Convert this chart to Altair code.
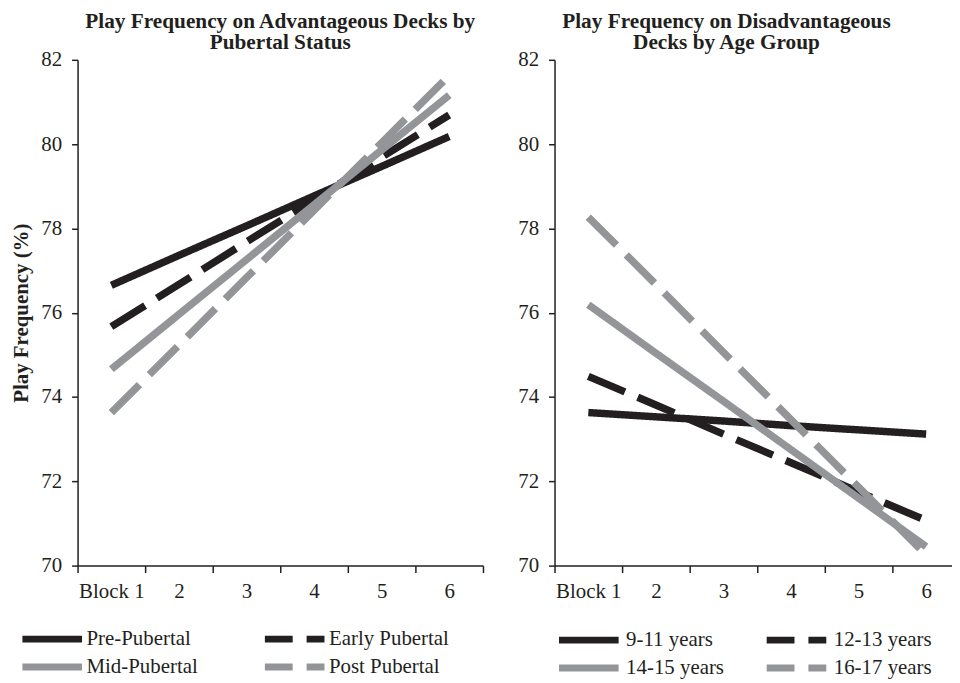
import altair as alt
import pandas as pd

# ---------------- data ----------------
blocks = [1, 2, 3, 4, 5, 6]
block_labels = ["Block 1", "2", "3", "4", "5", "6"]

pub_groups = ["Pre-Pubertal", "Early Pubertal", "Mid-Pubertal", "Post Pubertal"]
pre_pubertal = [76.65, 77.36, 78.06, 78.77, 79.47, 80.18]
early_pubertal = [75.67, 76.67, 77.68, 78.68, 79.69, 80.69]
mid_pubertal = [74.66, 75.96, 77.26, 78.56, 79.86, 81.16]
post_pubertal = [73.63, 75.23, 76.83, 78.43, 80.03, 81.63]

age_groups = ["9-11 years", "12-13 years", "14-15 years", "16-17 years"]
age_9_11 = [73.63, 73.53, 73.43, 73.32, 73.22, 73.12]
age_12_13 = [74.49, 73.81, 73.12, 72.44, 71.75, 71.07]
age_14_15 = [76.19, 75.04, 73.90, 72.75, 71.60, 70.45]
age_16_17 = [78.27, 76.67, 75.06, 73.46, 71.86, 70.25]

y_ticks = [70, 72, 74, 76, 78, 80, 82]

title_left = ["Play Frequency on Advantageous Decks by", "Pubertal Status"]
title_right = ["Play Frequency on Disadvantageous", "Decks by Age Group"]
y_title = "Play Frequency (%)"

# ---------------- styles ----------------
BLACK = "#231f20"
GRAY = "#939598"
FONT = "Liberation Serif"
FS = 21
colors = [BLACK, BLACK, GRAY, GRAY]
dashes = [[1, 0], [40, 14], [1, 0], [40, 14]]


def long_table(groups, series):
    rows = []
    for g, vals in zip(groups, series):
        for b, v in zip(blocks, vals):
            rows.append({"block": b, "value": v, "group": g})
    return pd.DataFrame(rows)


df_left = long_table(pub_groups, [pre_pubertal, early_pubertal, mid_pubertal, post_pubertal])
df_right = long_table(age_groups, [age_9_11, age_12_13, age_14_15, age_16_17])

label_expr = "".join(
    f"datum.value == {b} ? '{l}' : " for b, l in zip(blocks, block_labels)
) + "''"

x_tick_values = [b - 0.5 for b in blocks] + [b for b in blocks] + [blocks[-1] + 0.5]


def x_axis():
    return alt.Axis(
        values=sorted(x_tick_values),
        labelExpr=label_expr,
        labelOverlap=False,
        labelFlush=False,
        labelBound=False,
        title=None,
        grid=False,
        tickOpacity={"condition": {"test": "datum.value % 1 == 0", "value": 0}, "value": 1},
        tickSize=7,
        tickWidth=1.5,
        tickColor=BLACK,
        domainColor=BLACK,
        domainWidth=1.5,
        labelFont=FONT,
        labelFontSize=FS,
        labelColor=BLACK,
        labelPadding=8,
    )


def y_axis(title):
    kw = dict(
        values=y_ticks,
        grid=False,
        tickSize=6,
        tickWidth=1.5,
        tickColor=BLACK,
        domainColor=BLACK,
        domainWidth=1.5,
        labelFont=FONT,
        labelFontSize=FS,
        labelColor=BLACK,
        labelPadding=10,
    )
    if title:
        kw.update(
            title=title,
            titleFont=FONT,
            titleFontSize=FS,
            titleFontWeight="bold",
            titleColor=BLACK,
            titlePadding=9,
        )
    else:
        kw.update(title=None)
    return alt.Axis(**kw)


def legend(lx, ly, colpad, loff):
    return alt.Legend(
        title=None,
        orient="none",
        legendX=lx,
        legendY=ly,
        direction="horizontal",
        columns=2,
        symbolType="stroke",
        symbolSize=3600,
        symbolStrokeWidth=7,
        symbolDashOffset=12,
        clipHeight=20,
        rowPadding=7,
        columnPadding=colpad,
        labelOffset=loff,
        labelFont=FONT,
        labelFontSize=FS,
        labelColor=BLACK,
        labelLimit=300,
    )


def panel(df, groups, title, ytitle, leg, dx):
    lg = leg
    return (
        alt.Chart(df)
        .mark_line(strokeWidth=7.5, strokeCap="butt")
        .encode(
            x=alt.X("block:Q", scale=alt.Scale(domain=[0.5, 6.5], nice=False, zero=False), axis=x_axis()),
            y=alt.Y("value:Q", scale=alt.Scale(domain=[70, 82], nice=False, zero=False), axis=y_axis(ytitle)),
            color=alt.Color("group:N", scale=alt.Scale(domain=groups, range=colors), legend=lg),
            strokeDash=alt.StrokeDash("group:N", scale=alt.Scale(domain=groups, range=dashes), legend=lg),
        )
        .properties(
            width=408,
            height=509,
            title=alt.TitleParams(
                text=title,
                font=FONT,
                fontSize=21.4,
                fontWeight="bold",
                color=BLACK,
                lineHeight=22,
                offset=-5,
                dx=dx,
            ),
        )
    )


left = panel(df_left, pub_groups, title_left, y_title, legend(-59, 573, 64, 1), 0)
right = panel(df_right, age_groups, title_right, None, legend(1, 574, 39, 4), -31)

chart = (
    alt.hconcat(left, right, spacing=34)
    .resolve_scale(color="independent", strokeDash="independent")
    .properties(padding={"left": 3, "top": 0, "right": -9, "bottom": 0})
    .configure_view(stroke=None)
)

chart.save("out.html", embed_options={"renderer": "svg", "actions": False})
